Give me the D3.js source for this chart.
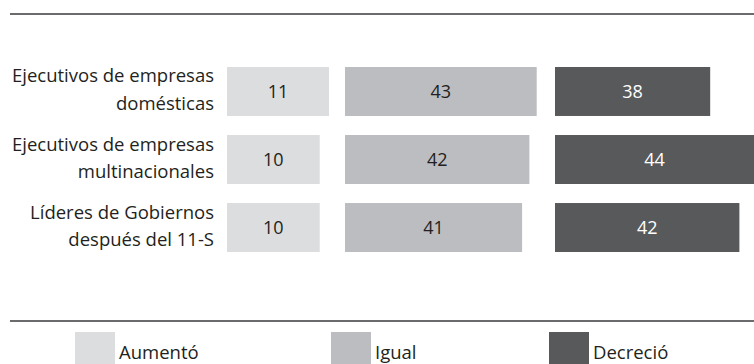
<!DOCTYPE html>
<html>
<head>
<meta charset="utf-8">
<script src="https://cdn.jsdelivr.net/npm/d3@7"></script>
<style>
  html, body { margin: 0; padding: 0; background: #ffffff; }
  svg { display: block; }
  text { font-family: "Open Sans", "Noto Sans", sans-serif; }
</style>
</head>
<body>
<div id="chart"></div>
<script>
// ---- data ----
const categories = [
  "Ejecutivos de empresas domésticas",
  "Ejecutivos de empresas multinacionales",
  "Líderes de Gobiernos después del 11-S"
];
const categoryLines = [
  ["Ejecutivos de empresas", "domésticas"],
  ["Ejecutivos de empresas", "multinacionales"],
  ["Líderes de Gobiernos", "después del 11-S"]
];
const seriesNames = ["Aumentó", "Igual", "Decreció"];
const aumento = [11, 10, 10];
const igual = [43, 42, 41];
const decrecio = [38, 44, 42];
const seriesValues = [aumento, igual, decrecio];
const seriesColors = ["#dcdddf", "#bcbdc1", "#58595b"];
const labelColors = ["#231f20", "#231f20", "#ffffff"];

// ---- layout ----
const W = 754, H = 364;
const svg = d3.select("#chart").append("svg").attr("width", W).attr("height", H);

const y = d3.scaleBand().domain(categories).range([67, 252]).paddingInner(0.28).paddingOuter(0);

// per-column width scales (the columns are not drawn on a common axis)
const colStart = d3.scaleOrdinal().domain(seriesNames).range([227, 345, 555]);
const wSmall = d3.scaleLinear().domain([0, 11]).range([0, 102]);
const wLarge = d3.scaleLinear().domain([16.75, 44]).range([0, 199]);
const widthScale = [wSmall, wLarge, wLarge];

// rules
svg.append("line").attr("x1", 10).attr("x2", W).attr("y1", 14).attr("y2", 14)
  .attr("stroke", "#3a3a3c").attr("stroke-width", 1.6);
svg.append("line").attr("x1", 10).attr("x2", W).attr("y1", 321).attr("y2", 321)
  .attr("stroke", "#3a3a3c").attr("stroke-width", 1.6);

// category labels
const lab = svg.append("g").selectAll("text").data(categories).join("text")
  .attr("text-anchor", "end")
  .attr("font-size", 18.5)
  .attr("fill", "#231f20");
lab.each(function(c, i) {
  const t = d3.select(this);
  const cy = y(c) + y.bandwidth() / 2;
  categoryLines[i].forEach((ln, k) => {
    t.append("tspan").attr("x", 214).attr("y", cy - 9 + k * 27.5).text(ln);
  });
});

// bars
seriesNames.forEach((s, si) => {
  const g = svg.append("g");
  const vals = seriesValues[si];
  const ws = widthScale[si];
  const x0 = colStart(s);
  g.selectAll("rect").data(vals).join("rect")
    .attr("x", x0)
    .attr("y", (d, i) => y(categories[i]))
    .attr("width", d => ws(d))
    .attr("height", y.bandwidth())
    .attr("fill", seriesColors[si]);
  g.selectAll("text").data(vals).join("text")
    .attr("x", d => x0 + ws(d) / 2)
    .attr("y", (d, i) => y(categories[i]) + y.bandwidth() / 2)
    .attr("dy", "0.36em")
    .attr("text-anchor", "middle")
    .attr("font-size", 18)
    .attr("fill", labelColors[si])
    .text(d => d);
});

// legend
const legX = d3.scaleOrdinal().domain(seriesNames).range([75, 331, 549]);
const leg = svg.append("g").selectAll("g").data(seriesNames).join("g")
  .attr("transform", d => `translate(${legX(d)},332)`);
leg.append("rect").attr("width", 40).attr("height", 32).attr("fill", (d, i) => seriesColors[i]);
leg.append("text").attr("x", 44).attr("y", 27).attr("font-size", 18.5).attr("fill", "#231f20").text(d => d);
</script>
</body>
</html>
